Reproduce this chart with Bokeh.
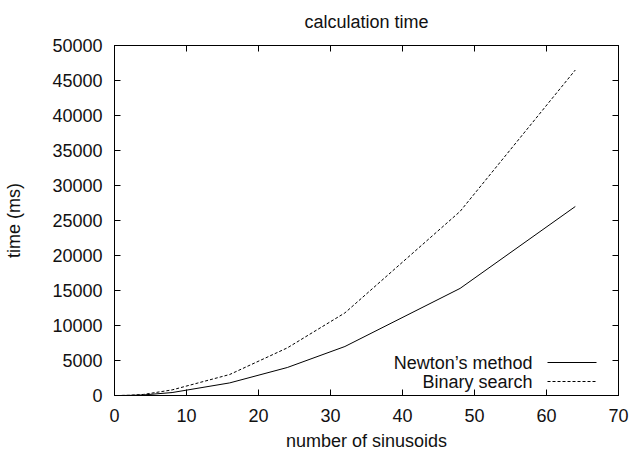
from bokeh.plotting import figure
from bokeh.models import LinearAxis, Label, Arrow, Range1d, FixedTicker, CustomLabelingPolicy
from bokeh.embed import file_html
from bokeh.resources import INLINE

# data
n_sinusoids = [1, 2, 4, 8, 16, 24, 32, 48, 64]
newton_ms = [5, 15, 80, 420, 1800, 4000, 7000, 15300, 27000]
binary_ms = [10, 30, 150, 800, 3000, 6800, 11800, 26300, 46500]
series_names = ["Newton\u2019s method", "Binary search"]
x_ticks = [0, 10, 20, 30, 40, 50, 60, 70]
y_ticks = [0, 5000, 10000, 15000, 20000, 25000, 30000, 35000, 40000, 45000, 50000]

FONT = "Liberation Sans"
FS = "18px"

p = figure(width=630, height=453, output_backend="svg", toolbar_location=None,
           x_range=Range1d(0, 70), y_range=Range1d(0, 50000),
           min_border_left=114, min_border_right=12, min_border_top=45, min_border_bottom=57,
           x_axis_label="number of sinusoids", y_axis_label="time (ms)",
           title="calculation time")
p.background_fill_color = "white"
p.border_fill_color = "white"
p.outline_line_color = "black"
p.outline_line_width = 1
p.grid.visible = False

p.title.text_font = FONT
p.title.text_font_size = FS
p.title.text_font_style = "normal"
p.title.align = "center"
p.title.vertical_align = "top"
p.title.text_color = "#111111"
p.title.standoff = 23

for ax in (p.xaxis[0], p.yaxis[0]):
    ax.major_tick_in = 6
    ax.major_tick_out = 0
    ax.minor_tick_in = 0
    ax.minor_tick_out = 0
    ax.axis_line_color = "black"
    ax.major_tick_line_color = "black"
    ax.major_label_text_font = FONT
    ax.major_label_text_font_size = FS
    ax.major_label_text_color = "#111111"
    ax.axis_label_text_font = FONT
    ax.axis_label_text_font_size = FS
    ax.axis_label_text_font_style = "normal"
    ax.axis_label_text_color = "#111111"

p.xaxis[0].ticker = FixedTicker(ticks=x_ticks)
p.yaxis[0].ticker = FixedTicker(ticks=y_ticks)
p.xaxis[0].major_label_standoff = 13
p.yaxis[0].major_label_standoff = 12
p.xaxis[0].axis_label_standoff = 6
p.yaxis[0].axis_label_standoff = 25

# mirrored ticks on top and right (no labels)
hide_labels = CustomLabelingPolicy(code="""
for (const i of Array.from(indices)) { indices.unset(i) }
return indices
""")
top = LinearAxis(ticker=FixedTicker(ticks=x_ticks))
right = LinearAxis(ticker=FixedTicker(ticks=y_ticks))
for ax in (top, right):
    ax.major_tick_in = 6
    ax.major_tick_out = 0
    ax.minor_tick_in = 0
    ax.minor_tick_out = 0
    ax.major_label_text_font_size = "0px"
    ax.major_label_standoff = 0
    ax.major_label_policy = hide_labels
    ax.axis_line_color = "black"
p.add_layout(top, "above")
p.add_layout(right, "right")

p.line(n_sinusoids, newton_ms, line_color="black", line_width=1)
p.line(n_sinusoids, binary_ms, line_color="black", line_width=1, line_dash="3 2")

# key (gnuplot style: text then line sample)
key_y = [33, 14]
key_dash = ["solid", "3 2"]
for name, ky, dash in zip(series_names, key_y, key_dash):
    p.add_layout(Label(x=418, y=ky, x_units="screen", y_units="screen", text=name,
                       text_align="right", text_baseline="middle",
                       text_font=FONT, text_font_size=FS, text_color="#111111"))
    p.add_layout(Arrow(x_start=433, y_start=ky, x_end=482, y_end=ky,
                       start_units="screen", end_units="screen", end=None,
                       line_color="black", line_width=1, line_dash=dash))

open("out.html", "w").write(file_html(p, INLINE))
